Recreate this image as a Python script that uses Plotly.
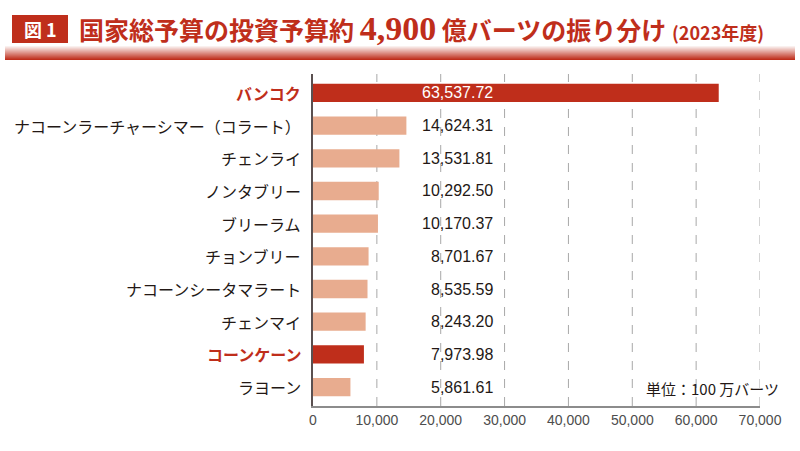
import plotly.graph_objects as go

categories = ["バンコク", "ナコーンラーチャーシマー（コラート）", "チェンライ", "ノンタブリー",
              "ブリーラム", "チョンブリー", "ナコーンシータマラート", "チェンマイ",
              "コーンケーン", "ラヨーン"]
values = [63537.72, 14624.31, 13531.81, 10292.50, 10170.37, 8701.67, 8535.59, 8243.20, 7973.98, 5861.61]
highlight = [True, False, False, False, False, False, False, False, True, False]
tick_vals = [0, 10000, 20000, 30000, 40000, 50000, 60000, 70000]
tick_text = ["0", "10,000", "20,000", "30,000", "40,000", "50,000", "60,000", "70,000"]

DARK = "#bf2e1b"
LIGHT = "#e8ac8f"
TXT = "#231815"
JP = "Noto Sans CJK JP"

W, H = 800, 451
L, R, T, B = 313, 40, 74, 45
PW, PH = W - L - R, H - T - B


def px(x):
    return (x - L) / PW


def py(y):
    return (H - B - y) / PH


colors = [DARK if h else LIGHT for h in highlight]

fig = go.Figure()
fig.add_trace(go.Bar(
    x=values, y=list(range(len(categories))), orientation="h",
    marker=dict(color=colors, line=dict(width=0)), width=0.56,
    hoverinfo="x+y",
))

label_x = 28500
annotations = []
for i, v in enumerate(values):
    annotations.append(dict(
        x=label_x, y=i, xref="x", yref="y", text=f"{v:,.2f}",
        showarrow=False, xanchor="right", yanchor="middle",
        font=dict(family="Liberation Sans, Arial", size=16,
                  color="white" if i == 0 else TXT)))
for i, (c, h) in enumerate(zip(categories, highlight)):
    annotations.append(dict(
        x=0, y=i, xref="paper", yref="y", text=f"<b>{c}</b>" if h else c,
        showarrow=False, xanchor="right", yanchor="middle", xshift=-10,
        font=dict(family=JP, size=16, color=DARK if h else TXT)))

annotations.append(dict(
    x=px(781), y=py(388), xref="paper", yref="paper", xanchor="right", yanchor="middle",
    showarrow=False, text="単位：100 万バーツ",
    font=dict(family=JP, size=15, color=TXT)))

# Title
annotations.append(dict(
    x=px(40), y=py(29), xref="paper", yref="paper", xanchor="center", yanchor="middle",
    showarrow=False, text="<b>図 1</b>", font=dict(family=JP, size=18, color="white")))
annotations.append(dict(
    x=px(77), y=py(28), xref="paper", yref="paper", xanchor="left", yanchor="middle",
    showarrow=False,
    text=("<b>国家総予算の投資予算約 <span style='font-size:34px;font-family:Liberation Serif'>4,900</span>"
          " 億バーツの振り分け <span style='font-size:18px'>(2023年度)</span></b>"),
    font=dict(family=JP, size=25, color=DARK)))

shapes = []
for t in tick_vals[1:]:
    shapes.append(dict(type="line", xref="x", yref="paper", x0=t, x1=t, y0=0, y1=1,
                       line=dict(color="#a8a8a8", width=1, dash="dash"), layer="below"))
shapes.append(dict(type="rect", xref="paper", yref="paper",
                   x0=px(12), x1=px(68), y0=py(43), y1=py(15),
                   fillcolor=DARK, line=dict(width=0)))
n = 14
top, bot = 46, 60
for k in range(n):
    f = (k + 1) / n
    r = int(255 + (191 - 255) * f)
    g = int(255 + (46 - 255) * f)
    b = int(255 + (27 - 255) * f)
    y0 = top + (bot - top) * k / n
    y1 = top + (bot - top) * (k + 1) / n
    shapes.append(dict(type="rect", xref="paper", yref="paper",
                       x0=px(5), x1=px(795), y0=py(y1), y1=py(y0),
                       fillcolor=f"rgb({r},{g},{b})", line=dict(width=0)))

fig.update_layout(
    width=W, height=H,
    margin=dict(l=L, r=R, t=T, b=B),
    paper_bgcolor="white", plot_bgcolor="white",
    showlegend=False,
    annotations=annotations, shapes=shapes,
    xaxis=dict(range=[0, 70000], tickvals=tick_vals, ticktext=tick_text,
               showgrid=False, zeroline=False, showline=True, linecolor="#8c8c8c",
               linewidth=1.5, ticks="", tickfont=dict(family="Liberation Sans, Arial", size=14, color="#4d4d4d")),
    yaxis=dict(range=[len(categories) - 0.42, -0.58], tickvals=list(range(len(categories))),
               showticklabels=False, showgrid=False, zeroline=False,
               showline=True, linecolor="#5a5050", linewidth=1.5, ticks=""),
)

fig.write_html("out.html", config={"displayModeBar": False},
               post_script="document.body.style.margin='0px';")
